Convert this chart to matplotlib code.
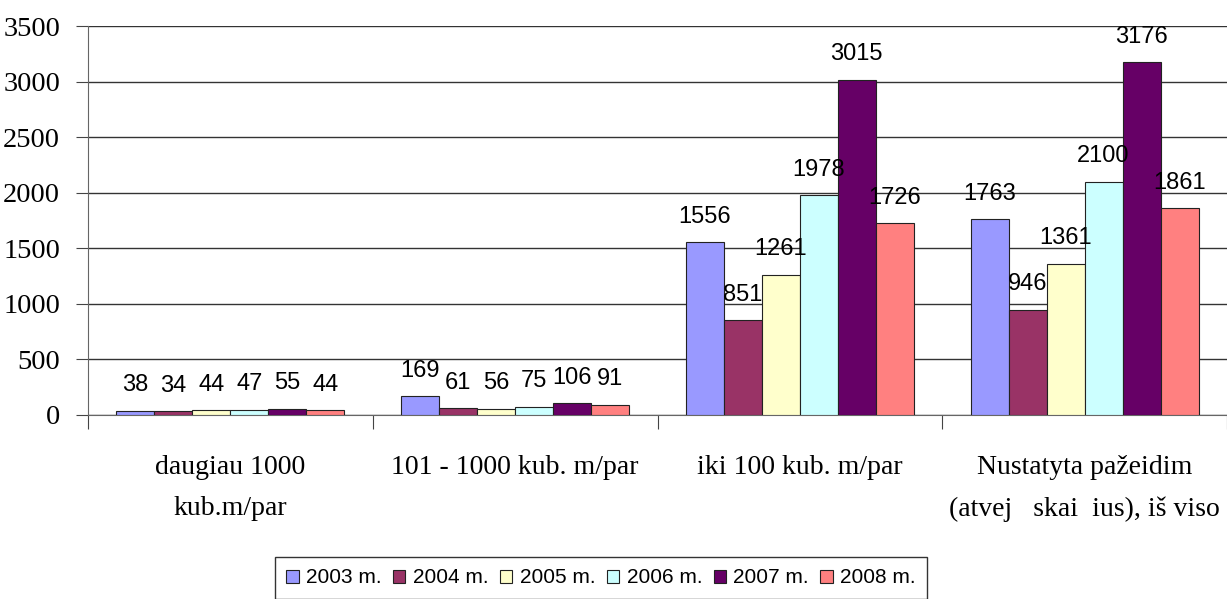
import numpy as np
import matplotlib
matplotlib.use("Agg")
import matplotlib.pyplot as plt

# duomenys
kategorijos = ["daugiau 1000\nkub.m/par", "101 - 1000 kub. m/par",
               "iki 100 kub. m/par", "Nustatyta pažeidim\n(atvej   skai  ius), iš viso"]
metai = ["2003 m.", "2004 m.", "2005 m.", "2006 m.", "2007 m.", "2008 m."]
v2003 = [38, 169, 1556, 1763]
v2004 = [34, 61, 851, 946]
v2005 = [44, 56, 1261, 1361]
v2006 = [47, 75, 1978, 2100]
v2007 = [55, 106, 3015, 3176]
v2008 = [44, 91, 1726, 1861]
serijos = [v2003, v2004, v2005, v2006, v2007, v2008]
spalvos = ["#9999FF", "#993366", "#FFFFCC", "#CCFFFF", "#660066", "#FF8080"]

serif = ["Liberation Serif", "DejaVu Serif"]
sans = ["Liberation Sans", "DejaVu Sans"]

fig = plt.figure(figsize=(12.27, 5.99), dpi=100)
ax = fig.add_axes([88 / 1227, 184 / 599, 1 - 88 / 1227, 389 / 599])

x = np.arange(len(kategorijos))
w = 0.8 / len(serijos)
for i, (vals, col, lab) in enumerate(zip(serijos, spalvos, metai)):
    pos = x - 0.4 + w * (i + 0.5)
    ax.bar(pos, vals, width=w, color=col, edgecolor="#222222", linewidth=0.8,
           label=lab, zorder=3)
    for px, v in zip(pos, vals):
        ax.annotate(str(v), (px, v), xytext=(0, 14), textcoords="offset points",
                    ha="center", va="baseline", fontsize=17, family=sans, zorder=4)

ax.set_xlim(-0.5, len(kategorijos) - 0.5)
ax.set_ylim(0, 3500)
ax.set_yticks(np.arange(0, 3501, 500))
ax.yaxis.grid(True, color="#333333", linewidth=1.0, zorder=0)
ax.set_axisbelow(True)

ax.set_xticks(np.arange(-0.5, len(kategorijos)), labels=[])
ax.set_xticks(x, labels=kategorijos, minor=True)
ax.tick_params(axis="x", which="major", length=10, direction="out", color="#444444")
ax.tick_params(axis="x", which="minor", length=0, pad=29)
ax.tick_params(axis="y", length=9, direction="out", color="#444444", pad=11)
for t in ax.get_xticklabels(minor=True):
    t.set_fontfamily(serif)
    t.set_fontsize(20)
    t.set_linespacing(1.85)
for t in ax.get_yticklabels():
    t.set_fontfamily(serif)
    t.set_fontsize(20.5)

for s in ["top", "right"]:
    ax.spines[s].set_visible(False)
ax.spines["left"].set_color("#666666")
ax.spines["bottom"].set_color("#666666")

leg = fig.legend(loc="upper center", bbox_to_anchor=(601 / 1227, 1 - 557 / 599),
                 ncol=6, frameon=True, fancybox=False, edgecolor="black",
                 prop={"family": sans, "size": 15}, handlelength=0.6,
                 handleheight=0.6, handletextpad=0.35, columnspacing=0.55,
                 borderpad=0.55, borderaxespad=0)
leg.get_frame().set_linewidth(1.0)

fig.savefig("out.png", dpi=100)
